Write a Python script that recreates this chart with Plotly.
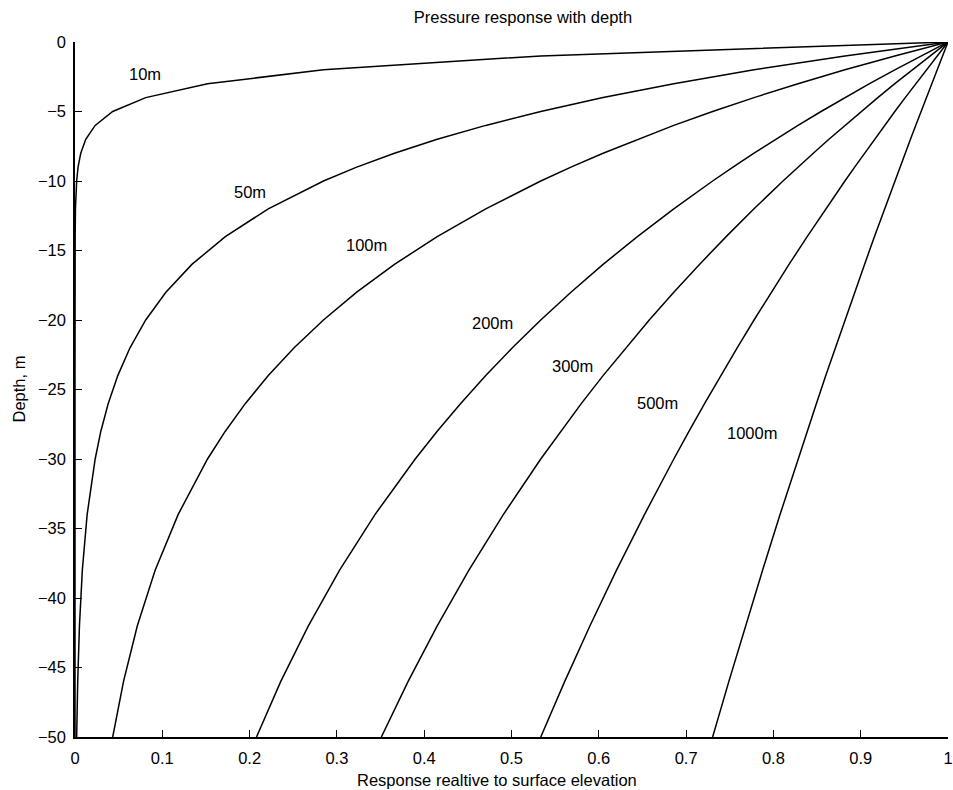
import plotly.graph_objects as go

# Depth grid (m) shared by all curves
depth = [0, -1, -2, -3, -4, -5, -6, -7, -8, -9, -10, -12, -14, -16, -18, -20,
         -22, -24, -26, -28, -30, -34, -38, -42, -46, -50]

# Response relative to surface elevation, read per wavelength
r10 = [1.0, 0.5335, 0.2846, 0.1518, 0.0810, 0.0432, 0.0231, 0.0123, 0.0066, 0.0035,
       0.0019, 0.0005, 0.0002, 0.0, 0.0, 0.0, 0.0, 0.0, 0.0, 0.0, 0.0, 0.0, 0.0, 0.0, 0.0, 0.0]
r50 = [1.0, 0.8819, 0.7778, 0.6859, 0.6049, 0.5335, 0.4705, 0.4149, 0.3659, 0.3227,
       0.2846, 0.2214, 0.1722, 0.1339, 0.1041, 0.0810, 0.0630, 0.0490, 0.0381, 0.0296,
       0.0231, 0.0139, 0.0084, 0.0051, 0.0031, 0.0019]
r100 = [1.0, 0.9391, 0.8819, 0.8282, 0.7778, 0.7304, 0.6859, 0.6442, 0.6049, 0.5681,
        0.5335, 0.4705, 0.4149, 0.3659, 0.3227, 0.2846, 0.2510, 0.2214, 0.1952, 0.1722,
        0.1518, 0.1181, 0.0918, 0.0714, 0.0556, 0.0432]
r200 = [1.0, 0.9691, 0.9391, 0.9101, 0.8819, 0.8546, 0.8282, 0.8026, 0.7778, 0.7537,
        0.7304, 0.6859, 0.6442, 0.6049, 0.5681, 0.5335, 0.5010, 0.4705, 0.4418, 0.4149,
        0.3897, 0.3436, 0.3031, 0.2673, 0.2357, 0.2079]
r300 = [1.0, 0.9793, 0.9590, 0.9391, 0.9196, 0.9006, 0.8819, 0.8636, 0.8457, 0.8282,
        0.8110, 0.7778, 0.7459, 0.7153, 0.6859, 0.6578, 0.6308, 0.6049, 0.5801, 0.5563,
        0.5335, 0.4906, 0.4512, 0.4149, 0.3816, 0.3509]
r500 = [1.0, 0.9875, 0.9752, 0.9630, 0.9510, 0.9391, 0.9274, 0.9158, 0.9044, 0.8931,
        0.8819, 0.8600, 0.8387, 0.8179, 0.7976, 0.7778, 0.7585, 0.7396, 0.7213, 0.7034,
        0.6859, 0.6523, 0.6203, 0.5899, 0.5610, 0.5335]
r1000 = [1.0, 0.9937, 0.9875, 0.9813, 0.9752, 0.9691, 0.9630, 0.9570, 0.9510, 0.9450,
         0.9391, 0.9274, 0.9158, 0.9044, 0.8931, 0.8819, 0.8709, 0.8600, 0.8493, 0.8387,
         0.8282, 0.8076, 0.7876, 0.7681, 0.7490, 0.7304]

series = [r10, r50, r100, r200, r300, r500, r1000]
labels = ["10m", "50m", "100m", "200m", "300m", "500m", "1000m"]
label_x = [0.08, 0.20, 0.334, 0.478, 0.57, 0.667, 0.776]
label_y = [-2.3, -10.8, -14.6, -20.2, -23.3, -26.0, -28.1]

x_ticks = [0, 0.1, 0.2, 0.3, 0.4, 0.5, 0.6, 0.7, 0.8, 0.9, 1]
x_ticktext = ["0", "0.1", "0.2", "0.3", "0.4", "0.5", "0.6", "0.7", "0.8", "0.9", "1"]
y_ticks = [-50, -45, -40, -35, -30, -25, -20, -15, -10, -5, 0]

FONT = "Liberation Sans, Arial, Helvetica, sans-serif"
FS = 16.5

fig = go.Figure()
for vals, name in zip(series, labels):
    fig.add_trace(go.Scatter(x=vals, y=depth, mode="lines", name=name,
                             line=dict(color="black", width=1.5), showlegend=False))

for lx, ly, txt in zip(label_x, label_y, labels):
    fig.add_annotation(x=lx, y=ly, text=txt, showarrow=False,
                       font=dict(size=FS, color="black", family=FONT),
                       xanchor="center", yanchor="middle")

L, R, T, B = 75, 5, 42, 53
W, H = 953, 790
pw, ph = W - L - R, H - T - B

fig.add_annotation(xref="paper", yref="paper", x=(497 - L) / pw, y=-(780 - (H - B)) / ph,
                   text="Response realtive to surface elevation", showarrow=False,
                   font=dict(size=FS, color="black", family=FONT),
                   xanchor="center", yanchor="middle")
fig.add_annotation(xref="paper", yref="paper", x=-(L - 18) / pw, y=0.5,
                   text="Depth, m", showarrow=False, textangle=-90,
                   font=dict(size=FS, color="black", family=FONT),
                   xanchor="center", yanchor="middle")

fig.update_layout(
    width=W, height=H,
    margin=dict(l=L, r=R, t=T, b=B, autoexpand=False),
    paper_bgcolor="white", plot_bgcolor="white",
    font=dict(family=FONT, size=FS, color="black"),
    title=dict(text="Pressure response with depth", x=523 / W, xref="container",
               xanchor="center", y=1 - 17.5 / H, yref="container", yanchor="middle",
               font=dict(size=FS, color="black", family=FONT)),
    xaxis=dict(range=[0, 1], tickvals=x_ticks, ticktext=x_ticktext,
               showgrid=False, zeroline=False, showline=True, linecolor="black",
               linewidth=1.5, ticks="inside", ticklen=7, tickwidth=1.2, tickcolor="black",
               ticklabelstandoff=5, ticklabeloverflow="allow", mirror=False,
               automargin=False),
    yaxis=dict(range=[-50, 0], tickvals=y_ticks,
               showgrid=False, zeroline=False, showline=True, linecolor="black",
               linewidth=1.5, ticks="inside", ticklen=7, tickwidth=1.2, tickcolor="black",
               ticklabelstandoff=4, ticklabeloverflow="allow", mirror=False,
               automargin=False),
)

fig.write_html("out.html")
